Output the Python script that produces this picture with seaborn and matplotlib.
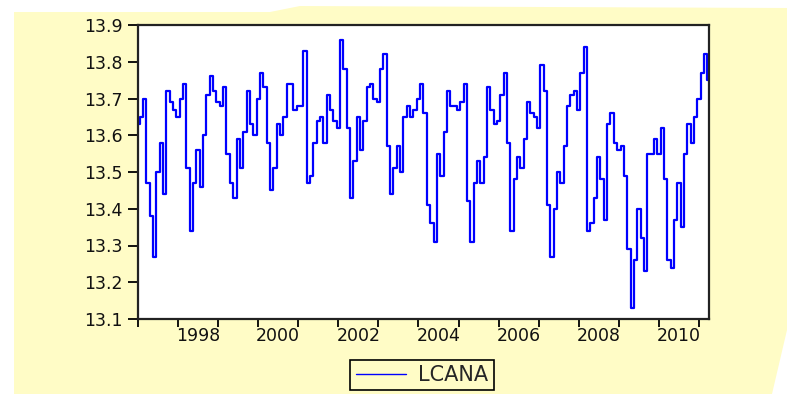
import numpy as np
import pandas as pd
import matplotlib
matplotlib.use("Agg")
import matplotlib.pyplot as plt
from matplotlib.patches import Polygon
from matplotlib.ticker import FixedLocator, NullFormatter, FixedFormatter, FormatStrFormatter
import seaborn as sns

# ---- data (monthly, starting January 1997) ----
start_year = 1997
series_name = "LCANA"
lcana = [
    13.63, 13.65, 13.70, 13.47, 13.38, 13.27, 13.50, 13.58, 13.44, 13.72,
    13.69, 13.67, 13.65, 13.70, 13.74, 13.51, 13.34, 13.47, 13.56, 13.46,
    13.60, 13.71, 13.76, 13.72, 13.69, 13.68, 13.73, 13.55, 13.47, 13.43,
    13.59, 13.51, 13.61, 13.72, 13.63, 13.60, 13.70, 13.77, 13.73, 13.58,
    13.45, 13.51, 13.63, 13.60, 13.65, 13.74, 13.74, 13.67, 13.68, 13.68,
    13.83, 13.47, 13.49, 13.58, 13.64, 13.65, 13.58, 13.71, 13.67, 13.64,
    13.62, 13.86, 13.78, 13.62, 13.43, 13.53, 13.65, 13.56, 13.64, 13.73,
    13.74, 13.70, 13.69, 13.78, 13.82, 13.57, 13.44, 13.51, 13.57, 13.50,
    13.65, 13.68, 13.65, 13.67, 13.70, 13.74, 13.66, 13.41, 13.36, 13.31,
    13.55, 13.49, 13.61, 13.72, 13.68, 13.68, 13.67, 13.69, 13.74, 13.42,
    13.31, 13.47, 13.53, 13.47, 13.54, 13.73, 13.67, 13.63, 13.64, 13.71,
    13.77, 13.58, 13.34, 13.48, 13.54, 13.51, 13.59, 13.69, 13.66, 13.65,
    13.62, 13.79, 13.72, 13.41, 13.27, 13.40, 13.50, 13.47, 13.57, 13.68,
    13.71, 13.72, 13.67, 13.77, 13.84, 13.34, 13.36, 13.43, 13.54, 13.48,
    13.37, 13.63, 13.66, 13.58, 13.56, 13.57, 13.49, 13.29, 13.13, 13.26,
    13.40, 13.32, 13.23, 13.55, 13.55, 13.59, 13.55, 13.62, 13.48, 13.26,
    13.24, 13.37, 13.47, 13.35, 13.55, 13.63, 13.58, 13.65, 13.70, 13.77,
    13.82, 13.75,
]
year_ticks = list(range(1997, 2012))
year_labels = ["1998", "2000", "2002", "2004", "2006", "2008", "2010"]
y_ticks = [13.1, 13.2, 13.3, 13.4, 13.5, 13.6, 13.7, 13.8, 13.9]

t = start_year + np.arange(len(lcana)) / 12.0
df = pd.DataFrame({"time": t, series_name: lcana})

# ---- styling ----
BG = "#FFFCC6"
W, H, DPI = 789, 396, 100
sns.set_theme(style="ticks")
plt.rcParams["font.family"] = ["DejaVu Sans"]

fig = plt.figure(figsize=(W / DPI, H / DPI), dpi=DPI, facecolor="white")

def px(x, y):
    return (x / W, 1 - y / H)

bg_poly = Polygon([px(14, 12), px(270, 12), px(300, 6), px(787, 8), px(787, 330),
                   px(772, 394), px(14, 394)],
                  closed=True, transform=fig.transFigure, facecolor=BG,
                  edgecolor="none", zorder=-10)
fig.patches.append(bg_poly)

ax = fig.add_axes([138 / W, 1 - 319 / H, (709 - 138) / W, (319 - 25) / H])
ax.set_facecolor("white")

sns.lineplot(data=df, x="time", y=series_name, ax=ax, color="#0000FF",
             linewidth=1.6, label=series_name, legend=False,
             drawstyle="steps-mid")

ax.set_xlim(start_year, start_year + (len(lcana) - 1) / 12.0)
ax.set_ylim(13.1, 13.9)
ax.set_xlabel("")
ax.set_ylabel("")

ax.set_yticks(y_ticks)
ax.yaxis.set_major_formatter(FormatStrFormatter("%.1f"))

ax.xaxis.set_major_locator(FixedLocator(year_ticks))
ax.xaxis.set_major_formatter(NullFormatter())
ax.xaxis.set_minor_locator(FixedLocator([int(y) + 0.5 for y in year_labels]))
ax.xaxis.set_minor_formatter(FixedFormatter(year_labels))

ax.tick_params(axis="y", which="major", direction="out", length=7, width=1.3,
               color="black", labelsize=12.5, labelcolor="#111111", pad=4)
ax.tick_params(axis="x", which="major", direction="out", length=6, width=1.3,
               color="black")
ax.tick_params(axis="x", which="minor", length=0, labelsize=12.5,
               labelcolor="#111111", pad=6)

for side, sp in ax.spines.items():
    sp.set_visible(True)
    sp.set_color("#222222")
    sp.set_linewidth(1.6)

leg = fig.legend(handles=ax.get_lines()[:1], labels=[series_name],
                 loc="center", bbox_to_anchor=px(422, 375),
                 frameon=True, fancybox=False, facecolor=BG, edgecolor="black",
                 framealpha=1, fontsize=15, handlelength=2.4, borderpad=0.25,
                 handletextpad=0.6)
leg.get_frame().set_linewidth(1.2)
leg.get_lines()[0].set_linewidth(1.0)
leg.get_lines()[0].set_drawstyle("default")

fig.savefig("out.png", dpi=DPI, facecolor=fig.get_facecolor())
